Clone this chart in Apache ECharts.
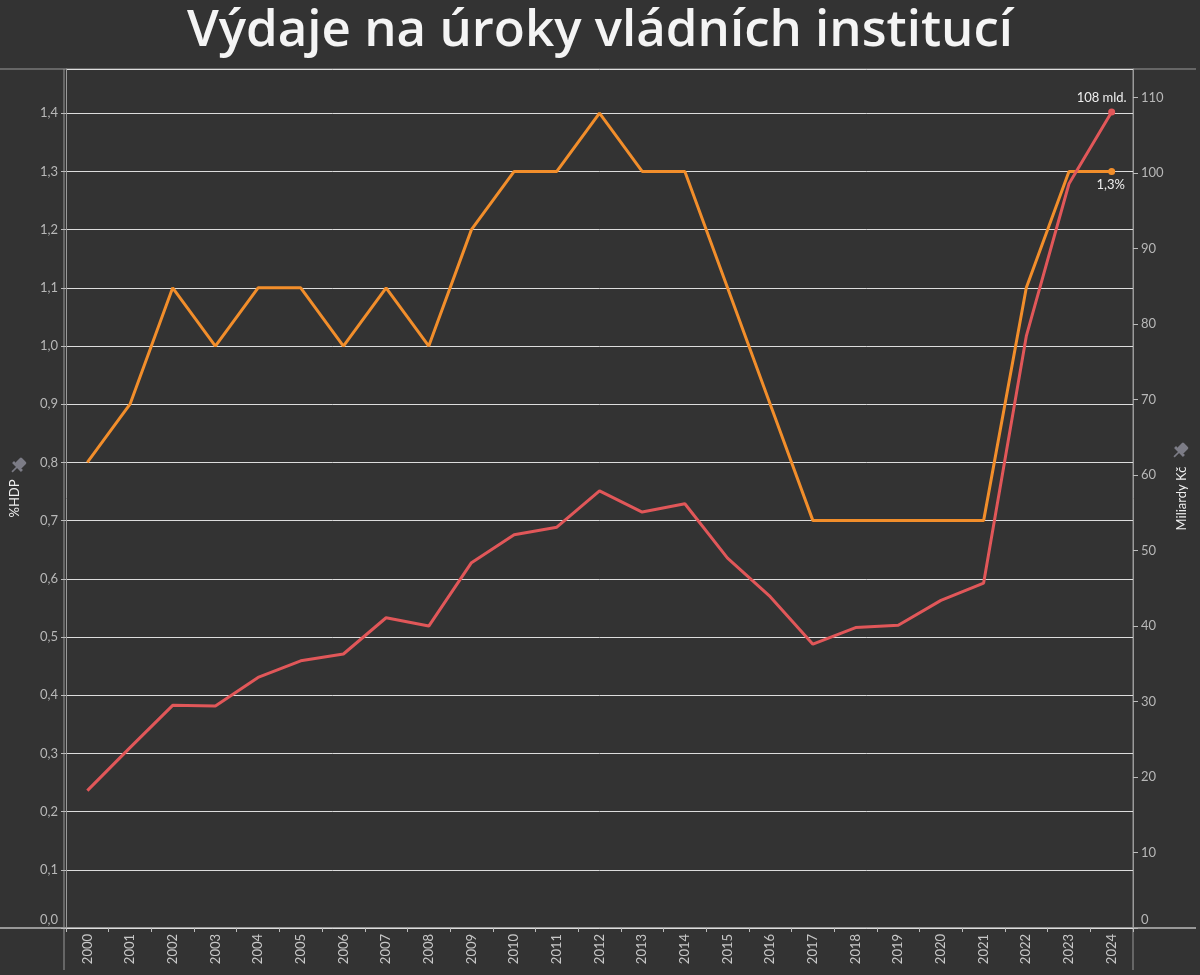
<!DOCTYPE html>
<html>
<head>
<meta charset="utf-8">
<title>Výdaje na úroky vládních institucí</title>
<script src="https://cdn.jsdelivr.net/npm/echarts@6/dist/echarts.min.js"></script>
<style>
  html, body { margin: 0; padding: 0; background: #333333; }
  #chart { width: 1200px; height: 975px; }
</style>
</head>
<body>
<div id="chart"></div>
<script>
"use strict";

/* data */
var years = ['2000', '2001', '2002', '2003', '2004', '2005', '2006', '2007', '2008', '2009',
	'2010', '2011', '2012', '2013', '2014', '2015', '2016', '2017', '2018', '2019',
	'2020', '2021', '2022', '2023', '2024'];
var shareGdp = [0.8, 0.9, 1.1, 1.0, 1.1, 1.1, 1.0, 1.1, 1.0, 1.2,
	1.3, 1.3, 1.4, 1.3, 1.3, 1.1, 0.9, 0.7, 0.7, 0.7,
	0.7, 0.7, 1.1, 1.3, 1.3];
var billionsCzk = [18.2, 23.9, 29.5, 29.4, 33.2, 35.4, 36.3, 41.1, 40.0, 48.4,
	52.1, 53.1, 57.9, 55.1, 56.2, 49.0, 43.9, 37.6, 39.8, 40.1,
	43.4, 45.7, 78.4, 98.6, 108.1];
var endLabelGdp = '1,3%';
var endLabelCzk = '108 mld.';

var last = years.length - 1;
var fontFam = 'Lato, "Open Sans", sans-serif';

var chart = echarts.init(document.getElementById('chart'));

function lastPointSize(val, params) {
	return params.dataIndex === last ? 7 : 0;
}

// the zero label sits above its tick, as in the original
var liftRich = { lift: { padding: [0, 0, 17, 0], color: '#b8b8b8', fontSize: 13 } };

// little pin icon next to the axis titles
function pin(x, y) {
	return {
		type: 'group',
		x: x,
		y: y,
		rotation: -Math.PI / 4,
		scaleX: 1.4,
		scaleY: 1.4,
		children: [
			{ type: 'rect', shape: { x: -3, y: -7, width: 6, height: 6, r: 1 }, style: { fill: '#7c7c86' } },
			{ type: 'rect', shape: { x: -4.5, y: -1.5, width: 9, height: 2 }, style: { fill: '#7c7c86' } },
			{ type: 'line', shape: { x1: 0, y1: 0, x2: 0, y2: 5 }, style: { stroke: '#7c7c86', lineWidth: 1.2 } }
		]
	};
}

var option = {
	backgroundColor: '#333333',
	animation: false,
	textStyle: { fontFamily: fontFam },
	title: {
		text: 'Výdaje na úroky vládních institucí',
		left: 'center',
		top: 1,
		textStyle: {
			color: '#f4f4f4',
			fontSize: 51,
			fontWeight: 600,
			fontFamily: '"Open Sans", sans-serif'
		}
	},
	grid: {
		top: 69,
		bottom: 47,
		left: 64,
		right: 67
	},
	xAxis: {
		type: 'category',
		data: years,
		boundaryGap: true,
		axisLine: { show: false },
		axisTick: {
			show: true,
			interval: 0,
			length: 4,
			lineStyle: { color: '#bbbbbb' }
		},
		axisLabel: {
			interval: 0,
			rotate: 90,
			color: '#c8c8c8',
			fontSize: 13,
			margin: 6
		}
	},
	yAxis: [{
		type: 'value',
		min: 0,
		max: 1.476,
		interval: 0.1,
		name: '%HDP',
		nameLocation: 'middle',
		nameRotate: 90,
		nameGap: 45,
		nameTextStyle: { color: '#eeeeee', fontSize: 13 },
		axisLine: { show: true, lineStyle: { color: '#9a9a9a' } },
		axisTick: { show: true, length: 5, lineStyle: { color: '#bbbbbb' } },
		axisLabel: {
			color: '#b8b8b8',
			fontSize: 13,
			margin: 8,
			showMaxLabel: false,
			rich: liftRich,
			formatter: function (v) {
				var s = v.toFixed(1).replace('.', ',');
				return v === 0 ? '{lift|' + s + '}' : s;
			}
		},
		splitLine: { show: true, lineStyle: { color: '#dddddd', width: 1 } }
	}, {
		type: 'value',
		min: 0,
		max: 113.8,
		interval: 10,
		position: 'right',
		name: 'Miliardy Kč',
		nameLocation: 'middle',
		nameRotate: 90,
		nameGap: 42,
		nameTextStyle: { color: '#eeeeee', fontSize: 13 },
		axisLine: { show: true, lineStyle: { color: '#9a9a9a' } },
		axisTick: { show: true, length: 5, lineStyle: { color: '#bbbbbb' } },
		axisLabel: {
			color: '#b8b8b8',
			fontSize: 13,
			margin: 8,
			showMaxLabel: false,
			rich: liftRich,
			formatter: function (v) {
				return v === 0 ? '{lift|0}' : String(v);
			}
		},
		splitLine: { show: false }
	}],
	series: [{
		name: '%HDP',
		type: 'line',
		yAxisIndex: 0,
		data: shareGdp,
		symbol: 'circle',
		showSymbol: true,
		symbolSize: lastPointSize,
		itemStyle: { color: '#f28e2b' },
		lineStyle: { color: '#f28e2b', width: 3 },
		label: {
			show: true,
			position: 'bottom',
			distance: 3,
			offset: [-1, 0],
			color: '#eeeeee',
			fontSize: 13,
			formatter: function (p) { return p.dataIndex === last ? endLabelGdp : ''; }
		},
		z: 2
	}, {
		name: 'Miliardy Kč',
		type: 'line',
		yAxisIndex: 1,
		data: billionsCzk,
		symbol: 'circle',
		showSymbol: true,
		symbolSize: lastPointSize,
		itemStyle: { color: '#e15759' },
		lineStyle: { color: '#e15759', width: 3 },
		label: {
			show: true,
			position: 'top',
			distance: 4,
			offset: [-10, 0],
			color: '#eeeeee',
			fontSize: 13,
			formatter: function (p) { return p.dataIndex === last ? endLabelCzk : ''; }
		},
		z: 3
	}],
	graphic: [
		{ type: 'line', shape: { x1: 0, y1: 69, x2: 1196, y2: 69 }, style: { stroke: '#9a9a9a', lineWidth: 1 } },
		{ type: 'line', shape: { x1: 0, y1: 928, x2: 1196, y2: 928 }, style: { stroke: '#bbbbbb', lineWidth: 1.5 } },
		{ type: 'line', shape: { x1: 64, y1: 69, x2: 64, y2: 970 }, style: { stroke: '#9a9a9a', lineWidth: 1 } },
		{ type: 'line', shape: { x1: 1133, y1: 69, x2: 1133, y2: 970 }, style: { stroke: '#9a9a9a', lineWidth: 1 } },
		pin(17, 467),
		pin(1179, 452)
	]
};

chart.setOption(option);
</script>
</body>
</html>
